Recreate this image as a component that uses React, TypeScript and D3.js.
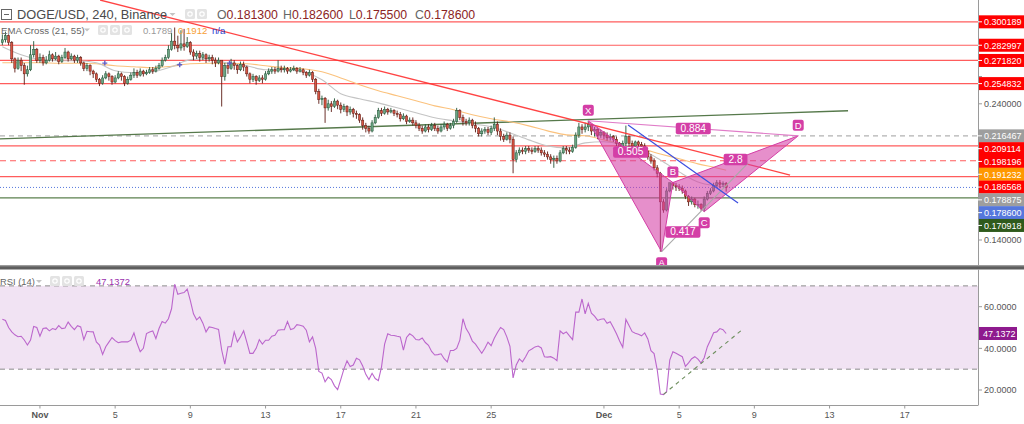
import React from "react";
import * as d3 from "d3";

// ---------- DATA (prices in thousandths of USD) ----------
const firstOpen = 285;
const closes = [
  287, 290, 285, 273, 266, 272,
  268, 262, 265, 276, 280, 272,
  274, 270, 272, 276, 273, 275,
  271, 274, 278, 273, 275, 272,
  274, 270, 266, 268, 264, 262,
  258, 255, 259, 262, 260, 256,
  259, 262, 260, 255, 258, 261,
  263, 261, 264, 262, 263, 265,
  264, 266, 268, 272, 274, 280,
  286, 283, 281, 284, 282, 285,
  278, 275, 277, 274, 276, 273,
  274, 272, 270, 272, 260, 268,
  266, 270, 268, 265, 269, 267,
  262, 258, 260, 257, 259, 258,
  262, 264, 265, 264, 266, 265,
  266, 264, 265, 266, 264, 265,
  263, 261, 263, 258, 249, 243,
  244, 237, 240, 238, 242, 239,
  236, 238, 234, 236, 233, 232,
  228, 224, 222, 220, 226, 230,
  235, 233, 236, 234, 235, 233,
  232, 229, 231, 227, 228, 226,
  224, 222, 220, 223, 221, 224,
  222, 220, 223, 225, 222, 224,
  227, 235, 230, 227, 226, 228,
  224, 222, 218, 220, 221, 219,
  222, 225, 220, 216, 214, 217,
  214, 199, 204, 206, 205, 207,
  206, 205, 207, 206, 204, 203,
  201, 199, 200, 198, 204, 207,
  206, 205, 208, 217, 223, 221,
  223, 225, 220, 221, 217, 219,
  217, 215, 216, 214, 211, 208,
  211, 216, 211, 209, 212, 210,
  209, 205, 201, 198, 193, 189,
  168, 162, 176, 182, 180, 179,
  178, 176, 172, 168, 170, 166,
  166, 163, 170, 174, 176, 180,
  182, 181, 181.3, 178.6,
];
const highs = [
  291, 293, 291, 286, 274, 274,
  274, 270, 268, 283, 286, 281,
  277, 276, 275, 279, 277, 278,
  276, 276, 281, 279, 277, 276,
  276, 275, 271, 270, 269, 265,
  263, 259, 261, 264, 263, 261,
  261, 264, 263, 261, 260, 263,
  266, 265, 266, 265, 265, 267,
  267, 268, 270, 274, 276, 283,
  292, 296, 290, 294, 295, 289,
  286, 280, 279, 279, 278, 277,
  276, 276, 274, 274, 272, 270,
  270, 273, 272, 269, 271, 271,
  268, 263, 262, 261, 261, 261,
  264, 266, 267, 267, 272, 268,
  268, 267, 267, 268, 267, 267,
  266, 264, 265, 264, 259, 251,
  246, 245, 243, 242, 244, 243,
  241, 240, 239, 238, 237, 235,
  233, 230, 226, 224, 228, 232,
  237, 237, 238, 237, 237, 236,
  235, 234, 233, 232, 230, 230,
  228, 226, 224, 225, 225, 226,
  226, 224, 225, 227, 226, 226,
  229, 237, 236, 232, 229, 230,
  229, 227, 223, 222, 223, 223,
  224, 230, 227, 222, 218, 219,
  219, 216, 206, 208, 208, 209,
  209, 208, 209, 209, 208, 206,
  205, 203, 202, 202, 206, 209,
  209, 208, 210, 219, 226, 225,
  226, 227.5, 225, 223, 222, 221,
  220, 219, 218, 217, 216, 212,
  213, 224, 217, 213, 213, 213,
  212, 211, 206, 203, 200, 195,
  190, 170, 178, 182, 182.2, 182,
  181, 180, 177, 173, 172, 171,
  169, 167, 172, 176, 178, 182,
  184, 184, 183, 182.6,
];
const lows = [
  283, 285, 283, 270, 263, 265,
  264, 254, 260, 264, 274, 270,
  270, 268, 269, 271, 271, 272,
  269, 270, 273, 271, 272, 270,
  270, 268, 264, 264, 261, 259,
  256, 253, 254, 258, 257, 254,
  255, 258, 257, 253, 254, 257,
  259, 259, 260, 260, 261, 262,
  262, 263, 265, 267, 271, 273,
  279, 280, 278, 279, 279, 281,
  276, 272, 273, 271, 272, 270,
  271, 269, 267, 269, 238, 257,
  262, 265, 265, 262, 264, 264,
  260, 255, 256, 254, 256, 255,
  257, 261, 262, 262, 263, 263,
  263, 262, 263, 264, 262, 263,
  261, 259, 260, 256, 247, 240,
  239, 226, 235, 234, 237, 236,
  233, 234, 231, 232, 230, 229,
  226, 221, 219, 218, 219, 225,
  229, 231, 232, 232, 233, 231,
  230, 227, 228, 225, 226, 224,
  222, 220, 218, 219, 219, 220,
  220, 218, 219, 221, 220, 221,
  222, 226, 228, 224, 224, 224,
  222, 219, 216, 216, 218, 217,
  217, 220, 217, 213, 212, 213,
  211, 189, 197, 202, 203, 203,
  204, 203, 204, 204, 202, 201,
  199, 196, 193, 196, 197, 203,
  203, 203, 204, 207, 215, 218,
  219, 220, 217, 216, 214, 215,
  214, 213, 213, 212, 209, 205,
  206, 209, 208, 207, 208, 208,
  207, 203, 199, 196, 191, 186,
  131.4, 160, 161, 175, 177, 176,
  176, 174, 170, 165, 166, 164,
  163, 161.5, 160.8, 169, 173, 175,
  179, 178, 179, 175.5,
];

// EMA values read once a day (00:00) plus the last bar
const ema21 = [281.9, 276.0, 272.4, 271.6, 271.6, 270.1, 264.3, 262.8, 263.5, 267.2, 272.4, 273.1, 269.8, 267.9, 265.0, 265.0, 263.5, 257.6, 247.4, 243.7, 240.7, 237.1, 233.4, 229.7, 227.5, 225.3, 223.1, 218.7, 213.5, 209.1, 207.6, 211.3, 212.1, 209.9, 206.2, 198.8, 190.0, 182.6, 179.7, 178.875];
const ema55 = [270.1, 270.1, 270.1, 269.8, 269.8, 269.4, 267.9, 267.2, 266.5, 267.6, 269.4, 269.8, 269.8, 269.4, 267.9, 266.5, 265.7, 263.5, 259.0, 254.0, 249.6, 245.9, 242.2, 238.5, 235.6, 231.9, 229.0, 226.8, 223.8, 220.1, 217.2, 216.5, 213.5, 209.9, 206.9, 203.2, 199.6, 195.9, 192.9, 191.232];
const crossBars = [32.7, 56.6, 72.5];
const crossPrices = [269.9, 268.7, 269.9];

const rsi = [
  54, 53.4, 50, 47.9, 46.5, 45.6, 45.8, 44, 41.6, 44,
  50.5, 50, 45.8, 49.5, 49.8, 48.4, 49.5, 49, 50.9, 49.5,
  49.8, 52.6, 50.6, 49, 50.9, 50.3, 44.2, 48.2, 48, 47.9,
  43.1, 41.6, 37.1, 40.8, 43, 45.2, 43.7, 42.7, 43.1, 43.1,
  43.1, 43.9, 47.4, 42.3, 38.4, 40, 47.1, 47.9, 48.4, 44.7,
  49.5, 52.9, 52.1, 54.2, 59, 70.8, 66, 66.5, 66.8, 68.4,
  62.9, 56.6, 53.7, 55.1, 52.1, 47.9, 50.3, 50, 49.5, 49.1,
  39.2, 32.4, 40.8, 40.8, 47.9, 43.1, 45.5, 48.4, 43.1, 37.6,
  37.6, 40, 44.2, 42, 43.9, 43.9, 45.8, 46.3, 48.7, 48.9,
  49, 52.9, 49, 49.5, 51.4, 51.1, 50.6, 48.7, 43.1, 45.5,
  40, 28.9, 28.1, 23.9, 26.2, 25, 22, 20.2,
  25, 30, 34, 31.3, 32, 35.2, 34.5, 31.5, 27.5, 25, 28, 25.5,
  24.5, 31, 42, 47, 46.3, 46.2, 45.8, 45.5, 39.2, 45.2,
  47, 46, 44.2, 44, 45, 42.8, 41.5, 38.5, 36.8, 37,
  37.4, 35, 33.5, 39, 39, 40, 43.9, 54.2, 49.5, 47,
  43.5, 42, 39.8, 37.6, 40, 43, 41.3, 44.8, 47.6, 50,
  49, 45.5, 41, 25.8, 32, 34.9, 33.5, 36, 38.8, 39.7,
  40.7, 41.1, 40.2, 36, 35.8, 36, 35.3, 34.1, 48.4, 47,
  47.9, 46, 44.2, 57.4, 57.4, 63.7, 56.6, 61.6, 56.9, 55.5,
  53.4, 54, 54.2, 52, 52.8, 50, 47, 43.5, 40.5, 53.9,
  51, 48, 47.2, 46.8, 46, 47.4, 44.5, 38.9, 37.5, 29.7,
  18.1, 17.8, 19.2, 34.4, 38.4, 37.6, 36.8, 36, 31.3, 33,
  35, 36, 34.8, 32.9, 35.5, 40.8, 44, 47.5, 47.9, 49.5,
  49, 47.1372,
];
const rsiTrendBars = [211, 236];
const rsiTrendValues = [17.9, 48.8];

// horizontal levels (USD)
const levelValues = [0.300189, 0.282997, 0.27182, 0.254832, 0.216467, 0.209114, 0.198196, 0.186568, 0.170918];
const levelKinds = ["red", "red", "red", "red", "gray", "red", "redDash", "red", "green"];

// trend lines: [bar index, price in thousandths]
const redTrend = [[31.2, 316.2], [251.4, 187.7]];
const greenTrend = [[-0.75, 214.2], [269.9, 234.9]];
const blueTrend = [[199.7, 224.4], [234.8, 167.2]];
const grayTrend = [[210.4, 131.4], [238, 196.5]];

// harmonic pattern
const patternNames = ["X", "A", "B", "C", "D"];
const patternBars = [187, 210.4, 214, 224, 254];
const patternPrices = [227.5, 131.4, 182.2, 160.8, 216.467];
const ratioPairs = [[0, 2], [1, 3], [2, 4], [0, 4]];
const ratioLabels = ["0.505", "0.417", "2.8", "0.884"];

const priceTicks = [0.26, 0.24, 0.22, 0.2, 0.18, 0.16, 0.14, 0.12];
const rsiTicks = [60, 40, 20];
const dateTicks = ["2021-11-01", "2021-11-05", "2021-11-09", "2021-11-13", "2021-11-17", "2021-11-21", "2021-11-25", "2021-12-01", "2021-12-05", "2021-12-09", "2021-12-13", "2021-12-17"];
const dateTickLabels = ["Nov", "5", "9", "13", "17", "21", "25", "Dec", "5", "9", "13", "17"];

const ohlcLetters = ["O", "H", "L", "C"];
const ohlcValues = ["0.181300", "0.182600", "0.175500", "0.178600"];

// ---------- LAYOUT ----------
const W = 1024, H = 424;
const AX = 978;
const PANE_B = 265;
const FONT = "'Liberation Sans', Arial, sans-serif";
const START = Date.UTC(2021, 9, 30, 0);
const STEP = 4 * 3600 * 1000;
const T0 = Date.UTC(2021, 9, 29, 21);
const PX_DAY = 18.8;
const T1 = T0 + (AX / PX_DAY) * 86400000;

const kindStyle: Record<string, { stroke: string; dash?: string; label: string }> = {
  red: { stroke: "#ff4040", label: "#ff0000" },
  redDash: { stroke: "#ff4040", dash: "6,4", label: "#ff0000" },
  gray: { stroke: "#a6a6a6", dash: "5,4", label: "#9e9e9e" },
  green: { stroke: "#3f6b2f", label: "#2f5a1c" },
};

const PINK = "#d43ea6";

export default function App() {
  const x = d3.scaleUtc().domain([new Date(T0), new Date(T1)]).range([0, AX]);
  const tx = (i: number) => x(new Date(START + i * STEP));
  const y = d3.scaleLinear().domain([0.24, 0.14]).range([103.8, 240]);
  const yp = (m: number) => y(m / 1000);
  const yR = d3.scaleLinear().domain([60, 20]).range([306.7, 390]);

  const emaBars = ema21.map((_, k) => (k < ema21.length - 1 ? k * 6 : closes.length - 1));
  const emaLine = (arr: number[]) =>
    d3.line<number>().x((_, k) => tx(emaBars[k])).y((v) => yp(v)).curve(d3.curveMonotoneX)(arr) || "";
  const rsiPath = d3.line<number>().x((_, i) => tx(i)).y((v) => yR(v))(rsi) || "";

  const pts = patternBars.map((b, k) => [tx(b), yp(patternPrices[k])]);
  const tri = (a: number, b: number, c: number) => [pts[a], pts[b], pts[c]].map((p) => p.join(",")).join(" ");

  // axis labels with stacking
  const lastClose = closes[closes.length - 1] / 1000;
  const axisLabels = [
    ...levelValues.map((v, k) => ({ v, color: kindStyle[levelKinds[k]].label })),
    { v: ema55[ema55.length - 1] / 1000, color: "#ff9800" },
    { v: ema21[ema21.length - 1] / 1000, color: "#9e9e9e" },
    { v: lastClose, color: "#5577dd" },
  ].sort((a, b) => b.v - a.v);
  let prevY = -100;
  const placed = axisLabels.map((l) => {
    let ly = y(l.v);
    if (ly < prevY + 12.8) ly = prevY + 12.8;
    prevY = ly;
    return { ...l, ly };
  });
  const tickVisible = (t: number) => y(t) < PANE_B - 6 && placed.every((l) => Math.abs(l.ly - y(t)) > 11.5);

  const line2 = (seg: number[][], props: any) => (
    <line x1={tx(seg[0][0])} y1={yp(seg[0][1])} x2={tx(seg[1][0])} y2={yp(seg[1][1])} {...props} />
  );

  const icon = (ix: number, iy: number, key: string) => (
    <g key={key}>
      <rect x={ix} y={iy} width={10} height={10} rx={1.5} fill="#e3e3e3" />
      <circle cx={ix + 5} cy={iy + 5} r={2.2} fill="none" stroke="#fff" strokeWidth={1.2} />
    </g>
  );
  const caret = (cx: number, cy: number) => <path d={`M${cx - 3},${cy - 1.5}L${cx + 3},${cy - 1.5}L${cx},${cy + 1.5}Z`} fill="#c4c4c4" />;

  return (
    <svg width={W} height={H} style={{ position: "fixed", left: 0, top: 0, background: "#fff" }} fontFamily={FONT}>
      <defs>
        <clipPath id="pp"><rect x={0} y={0} width={AX} height={PANE_B} /></clipPath>
        <clipPath id="rp"><rect x={0} y={269} width={AX} height={136} /></clipPath>
      </defs>
      <rect width={W} height={H} fill="#fff" />

      {/* ---------- price pane ---------- */}
      <g clipPath="url(#pp)">
        {levelValues.map((v, k) => {
          const s = kindStyle[levelKinds[k]];
          return <line key={"lv" + k} x1={0} x2={AX} y1={y(v)} y2={y(v)} stroke={s.stroke} strokeWidth={1.2} strokeDasharray={s.dash} opacity={0.85} />;
        })}
        <line x1={0} x2={AX} y1={y(lastClose)} y2={y(lastClose)} stroke="#5577dd" strokeWidth={1} strokeDasharray="1,2" />
        {line2(greenTrend, { stroke: "#56794b", strokeWidth: 1.3 })}
        <path d={emaLine(ema55)} fill="none" stroke="#fbc27d" strokeWidth={1.1} />
        <path d={emaLine(ema21)} fill="none" stroke="#c4c4c4" strokeWidth={1.1} />

        {closes.map((c, i) => {
          const o = i === 0 ? firstOpen : closes[i - 1];
          const up = c >= o;
          const cx = tx(i);
          const y1 = yp(o), y2 = yp(c);
          const top = Math.min(y1, y2);
          const h = Math.max(0.8, Math.abs(y1 - y2));
          const border = up ? "#225437" : "#5b1a13";
          return (
            <g key={"c" + i}>
              <line x1={cx} x2={cx} y1={yp(highs[i])} y2={yp(lows[i])} stroke={border} strokeWidth={0.9} />
              <rect x={cx - 1.1} y={top} width={2.2} height={h} fill={up ? "#6ba583" : "#d75442"} stroke={border} strokeWidth={0.5} />
            </g>
          );
        })}

        {crossBars.map((b, k) => {
          const cx = tx(b), cy = yp(crossPrices[k]);
          return <path key={"x" + k} d={`M${cx - 2.5},${cy}H${cx + 2.5}M${cx},${cy - 2.5}V${cy + 2.5}`} stroke="#6060c8" strokeWidth={1.4} />;
        })}

        {line2(redTrend, { stroke: "#ff3030", strokeWidth: 1.3, opacity: 0.9 })}

        {/* harmonic pattern */}
        <polygon points={tri(0, 1, 2)} fill={PINK} fillOpacity={0.58} stroke={PINK} strokeWidth={1} />
        <polygon points={tri(2, 3, 4)} fill={PINK} fillOpacity={0.58} stroke={PINK} strokeWidth={1} />
        <line x1={pts[0][0]} y1={pts[0][1]} x2={pts[4][0]} y2={pts[4][1]} stroke="#e07cc8" strokeWidth={1.1} />
        {line2(grayTrend, { stroke: "#a9a9a9", strokeWidth: 1.1 })}
        {line2(blueTrend, { stroke: "#3d4fe0", strokeWidth: 1.2 })}

        {ratioPairs.map(([a, b], k) => {
          const mx = (pts[a][0] + pts[b][0]) / 2;
          const my = (pts[a][1] + pts[b][1]) / 2;
          const w = ratioLabels[k].length * 5.6 + 7;
          return (
            <g key={"r" + k}>
              <rect x={mx - w / 2} y={my - 5.5} width={w} height={11.5} rx={2} fill={PINK} />
              <text x={mx} y={my + 3.6} textAnchor="middle" fontSize={10.2} fill="#fff">{ratioLabels[k]}</text>
            </g>
          );
        })}
        {patternNames.map((n, k) => {
          const below = n === "A" || n === "C";
          const cy = pts[k][1] + (below ? 11 : -10.5);
          return (
            <g key={"p" + k}>
              <rect x={pts[k][0] - 5.5} y={cy - 5.5} width={11} height={11} rx={2} fill={PINK} />
              <text x={pts[k][0]} y={cy + 3.4} textAnchor="middle" fontSize={9.5} fill="#fff">{n}</text>
            </g>
          );
        })}
      </g>

      {/* legends */}
      <rect x={1.5} y={9.5} width={10} height={10} fill="none" stroke="#666" strokeWidth={1} />
      <line x1={4} x2={9} y1={14.5} y2={14.5} stroke="#666" strokeWidth={1} />
      <text x={17} y={18.6} fontSize={12.8} fill="#4a4a4a">DOGE/USD, 240, Binance</text>
      {caret(172.5, 14.5)}
      {icon(185, 9, "i1")}
      {icon(197, 9, "i2")}
      {ohlcLetters.map((l, k) => (
        <text key={"o" + k} x={217 + k * 66} y={18.6} fontSize={12.3}>
          <tspan fill="#666">{l}</tspan>
          <tspan fill="#8b2323">{ohlcValues[k]}</tspan>
        </text>
      ))}
      <text x={1} y={33.5} fontSize={9.6} fill="#666">EMA Cross (21, 55)</text>
      {caret(87, 30)}
      {icon(98, 25, "i3")}
      {icon(110, 25, "i4")}
      {icon(122, 25, "i5")}
      <text x={143} y={33.5} fontSize={9.6} fill="#9a9a9a">0.1789</text>
      <text x={178} y={33.5} fontSize={9.6} fill="#f7a035">0.1912</text>
      <text x={212} y={33.5} fontSize={9.6} fill="#2a3fd0">n/a</text>

      {/* price axis */}
      <line x1={AX + 0.5} x2={AX + 0.5} y1={0} y2={PANE_B} stroke="#9a9a9a" strokeWidth={1} />
      {priceTicks.map((t) => (
        y(t) < PANE_B - 4 ? (
          <g key={"pt" + t}>
            <line x1={AX} x2={AX + 4} y1={y(t)} y2={y(t)} stroke="#9a9a9a" />
            {tickVisible(t) ? <text x={984} y={y(t) + 3.2} fontSize={9} fill="#555">{t.toFixed(6)}</text> : null}
          </g>
        ) : null
      ))}
      {placed.map((l, k) => (
        <g key={"al" + k}>
          <rect x={979} y={l.ly - 6.5} width={45} height={13} fill={l.color} />
          <line x1={AX} x2={982} y1={l.ly} y2={l.ly} stroke="#fff" strokeWidth={1} />
          <text x={984} y={l.ly + 3.3} fontSize={9} fill="#fff">{l.v.toFixed(6)}</text>
        </g>
      ))}

      {/* divider */}
      <rect x={0} y={265.5} width={W} height={4} fill="#5e5e5e" />
      <rect x={0} y={265.5} width={W} height={1} fill="#8a8a8a" />

      {/* ---------- RSI pane ---------- */}
      <g clipPath="url(#rp)">
        <rect x={0} y={yR(70)} width={AX} height={yR(30) - yR(70)} fill="#f1e3f3" />
        <line x1={0} x2={AX} y1={yR(70)} y2={yR(70)} stroke="#8c8c8c" strokeDasharray="5,4" />
        <line x1={0} x2={AX} y1={yR(30)} y2={yR(30)} stroke="#8c8c8c" strokeDasharray="5,4" />
        <path d={rsiPath} fill="none" stroke="#bb66cc" strokeWidth={1.1} />
        <line x1={tx(rsiTrendBars[0])} y1={yR(rsiTrendValues[0])} x2={tx(rsiTrendBars[1])} y2={yR(rsiTrendValues[1])} stroke="#6e8f5e" strokeWidth={1.1} strokeDasharray="4,4" />
      </g>
      <text x={0} y={285} fontSize={9.4} fill="#666">RSI (14)</text>
      {caret(39, 281.5)}
      {icon(50, 276, "i6")}
      {icon(62, 276, "i7")}
      {icon(74, 276, "i8")}
      <text x={96} y={285} fontSize={9.4} fill="#9b2fae">{rsi[rsi.length - 1].toFixed(4)}</text>

      <line x1={AX + 0.5} x2={AX + 0.5} y1={269.5} y2={405} stroke="#9a9a9a" strokeWidth={1} />
      {rsiTicks.map((t) => (
        <g key={"rt" + t}>
          <line x1={AX} x2={AX + 4} y1={yR(t)} y2={yR(t)} stroke="#9a9a9a" />
          <text x={984} y={yR(t) + 3.2} fontSize={9} fill="#555">{t.toFixed(4)}</text>
        </g>
      ))}
      <rect x={979} y={yR(rsi[rsi.length - 1]) - 6.5} width={38} height={13} fill="#8e1a8e" />
      <text x={983} y={yR(rsi[rsi.length - 1]) + 3.3} fontSize={9} fill="#fff">{rsi[rsi.length - 1].toFixed(4)}</text>

      {/* time axis */}
      <line x1={0} x2={AX + 0.5} y1={405.5} y2={405.5} stroke="#9a9a9a" strokeWidth={1} />
      {dateTicks.map((d, k) => {
        const px = x(new Date(d + "T00:00:00Z"));
        const bold = isNaN(Number(dateTickLabels[k]));
        return (
          <g key={"dt" + k}>
            <line x1={px} x2={px} y1={405.5} y2={408.5} stroke="#9a9a9a" />
            <text x={px} y={417.5} fontSize={9} textAnchor="middle" fill="#555" fontWeight={bold ? "bold" : "normal"}>{dateTickLabels[k]}</text>
          </g>
        );
      })}
    </svg>
  );
}
